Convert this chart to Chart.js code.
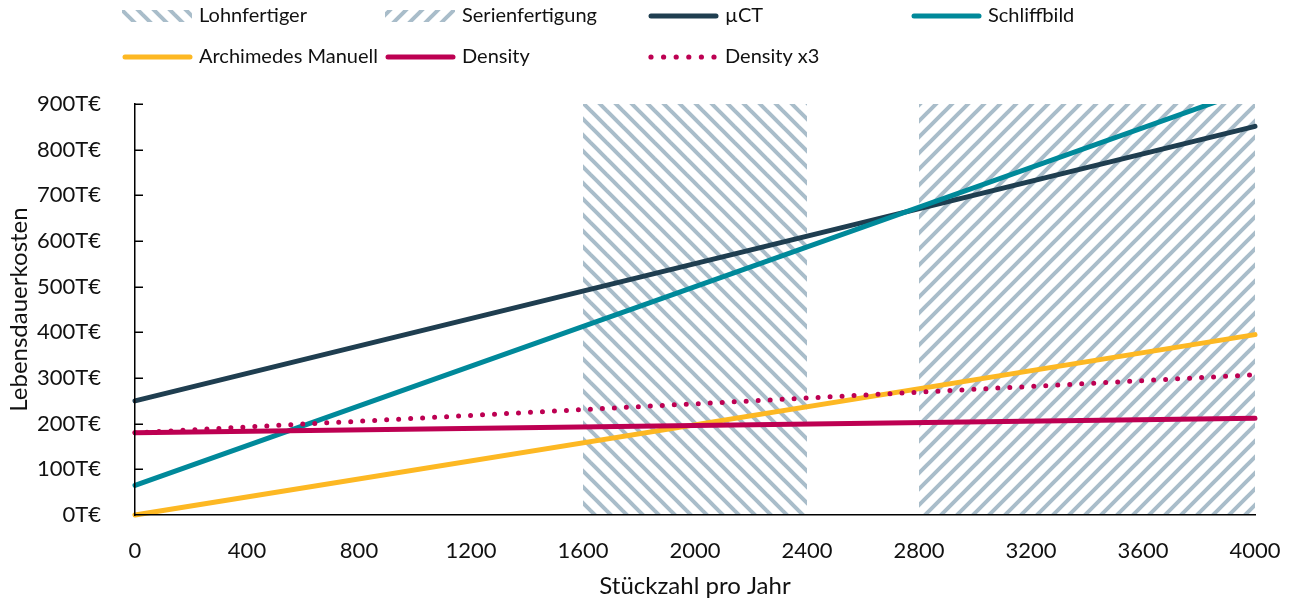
<!DOCTYPE html>
<html>
<head>
<meta charset="utf-8">
<script src="https://cdn.jsdelivr.net/npm/chart.js@4/dist/chart.umd.min.js"></script>
<style>
  html, body { margin: 0; padding: 0; background: #ffffff; }
  #wrap { width: 1298px; height: 604px; position: relative; }
</style>
</head>
<body>
<div id="wrap"><canvas id="c" width="1298" height="604"></canvas></div>
<script>
// Stückzahl pro Jahr (x) for the start and end of each cost line
const xValues = [0, 4000];

// Lebensdauerkosten in T€ at those quantities
const muCT        = [250, 851];
const schliffbild = [65, 935];
const archimedes  = [0, 395];
const density     = [180, 212];
const densityX3   = [180, 307];

// production ranges shown as hatched bands
const lohnfertigerRange = [1600, 2400];
const serienRange       = [2800, 4000];

// axis ticks
const xTicks = [0, 400, 800, 1200, 1600, 2000, 2400, 2800, 3200, 3600, 4000];
const yTicks = [0, 100, 200, 300, 400, 500, 600, 700, 800, 900];
const yUnit = 'T€';

const FONT = 'Lato';
const TEXT = '#111111';
const HATCH = '#a9bdca';
const COLORS = {
  muCT: '#1f3e50',
  schliff: '#00899a',
  arch: '#fdb823',
  dens: '#bd0052'
};

// diagonal hatch tile; dir = 'down' draws "\" stripes, 'up' draws "/" stripes
function makeHatch(dir) {
  const s = 16;
  const t = document.createElement('canvas');
  t.width = s; t.height = s;
  const g = t.getContext('2d');
  g.strokeStyle = HATCH;
  g.lineWidth = 4;
  g.lineCap = 'square';
  const seg = (x1, y1, x2, y2) => { g.beginPath(); g.moveTo(x1, y1); g.lineTo(x2, y2); g.stroke(); };
  if (dir === 'up') {
    seg(-s, s, s, -s); seg(0, s, s, 0); seg(0, 2 * s, 2 * s, 0);
  } else {
    seg(0, 0, s, s); seg(-s, 0, s, 2 * s); seg(0, -s, 2 * s, s);
  }
  return g.createPattern(t, 'repeat');
}
const hatchDown = makeHatch('down');
const hatchUp = makeHatch('up');

const yTop = yTicks[yTicks.length - 1];
const pts = (ys) => xValues.map((x, i) => ({ x: x, y: ys[i] }));
const band = (r) => r.map(x => ({ x: x, y: yTop }));

const lineBase = {
  type: 'line',
  borderWidth: 5,
  pointRadius: 0,
  borderCapStyle: 'round',
  fill: false,
  tension: 0,
  clip: { left: 4, right: 4, top: 0, bottom: 4 }
};

const datasets = [
  { type: 'line', label: 'Lohnfertiger', data: band(lohnfertigerRange), fill: 'origin',
    backgroundColor: hatchDown, borderWidth: 0, pointRadius: 0, order: 20, legendKind: 'hatchDown' },
  { type: 'line', label: 'Serienfertigung', data: band(serienRange), fill: 'origin',
    backgroundColor: hatchUp, borderWidth: 0, pointRadius: 0, order: 19, legendKind: 'hatchUp' },
  Object.assign({}, lineBase, { label: 'µCT', data: pts(muCT), borderColor: COLORS.muCT, order: 5 }),
  Object.assign({}, lineBase, { label: 'Schliffbild', data: pts(schliffbild), borderColor: COLORS.schliff, order: 4 }),
  Object.assign({}, lineBase, { label: 'Archimedes Manuell', data: pts(archimedes), borderColor: COLORS.arch, order: 3 }),
  Object.assign({}, lineBase, { label: 'Density', data: pts(density), borderColor: COLORS.dens, order: 2 }),
  Object.assign({}, lineBase, { label: 'Density x3', data: pts(densityX3), borderColor: COLORS.dens,
    borderDash: [0, 12], order: 1, legendKind: 'dots' })
];

// small inward tick marks on the value axis
const innerTicks = {
  id: 'innerTicks',
  afterDatasetsDraw(chart) {
    const y = chart.scales.y, ctx = chart.ctx, left = chart.chartArea.left;
    ctx.save();
    ctx.strokeStyle = '#000';
    ctx.lineWidth = 1.5;
    yTicks.forEach(v => {
      if (v === 0) return;
      const py = Math.round(y.getPixelForValue(v)) + 0.25;
      ctx.beginPath();
      ctx.moveTo(left - 1, py);
      ctx.lineTo(left + 8, py);
      ctx.stroke();
    });
    ctx.restore();
  }
};

// legend laid out in four fixed columns, two rows
const gridLegend = {
  id: 'gridLegend',
  afterDraw(chart) {
    const ctx = chart.ctx;
    const colX = [122, 385, 648, 911];
    const rowY = [16, 57];
    const swatchW = 70;
    ctx.save();
    ctx.font = '20px ' + FONT;
    ctx.textBaseline = 'middle';
    ctx.textAlign = 'left';
    chart.data.datasets.forEach((ds, i) => {
      const x = colX[i % 4], y = rowY[Math.floor(i / 4)];
      if (ds.legendKind === 'hatchDown' || ds.legendKind === 'hatchUp') {
        ctx.fillStyle = ds.backgroundColor;
        ctx.fillRect(x, y - 6, swatchW, 12);
      } else if (ds.legendKind === 'dots') {
        ctx.fillStyle = ds.borderColor;
        for (let k = 0; k < 6; k++) {
          ctx.beginPath();
          ctx.arc(x + 3 + k * 12.6, y, 2.6, 0, Math.PI * 2);
          ctx.fill();
        }
      } else {
        ctx.strokeStyle = ds.borderColor;
        ctx.lineWidth = 5;
        ctx.lineCap = 'round';
        ctx.beginPath();
        ctx.moveTo(x + 3, y);
        ctx.lineTo(x + swatchW - 2, y);
        ctx.stroke();
      }
      ctx.fillStyle = TEXT;
      ctx.fillText(ds.label, x + swatchW + 7, y);
    });
    ctx.restore();
  }
};

new Chart(document.getElementById('c'), {
  data: { datasets: datasets },
  options: {
    responsive: false,
    animation: false,
    devicePixelRatio: 1,
    layout: { padding: { top: 104, right: 43, bottom: 0, left: 0 } },
    plugins: { legend: { display: false }, tooltip: { enabled: false } },
    scales: {
      x: {
        type: 'linear',
        min: xTicks[0],
        max: xTicks[xTicks.length - 1],
        afterBuildTicks: s => { s.ticks = xTicks.map(v => ({ value: v })); },
        afterFit: s => { s.height = 89; },
        grid: { display: false },
        border: { display: true, color: '#000', width: 1.5, z: 1 },
        ticks: { color: TEXT, font: { family: FONT, size: 22 }, padding: 15, maxRotation: 0, autoSkip: false,
                 callback: v => String(v) },
        title: { display: true, text: 'Stückzahl pro Jahr', color: TEXT,
                 font: { family: FONT, size: 24 }, padding: { top: 0, bottom: 3 } }
      },
      y: {
        type: 'linear',
        min: yTicks[0],
        max: yTop,
        afterBuildTicks: s => { s.ticks = yTicks.map(v => ({ value: v })); },
        afterFit: s => { s.width = 135; },
        grid: { display: false },
        border: { display: true, color: '#000', width: 1.5, z: 1 },
        ticks: { color: TEXT, font: { family: FONT, size: 22 }, padding: 26,
                 callback: v => v + yUnit },
        title: { display: true, text: 'Lebensdauerkosten', color: TEXT,
                 font: { family: FONT, size: 24 }, padding: { top: 5, bottom: 0 } }
      }
    }
  },
  plugins: [innerTicks, gridLegend]
});
</script>
</body>
</html>
